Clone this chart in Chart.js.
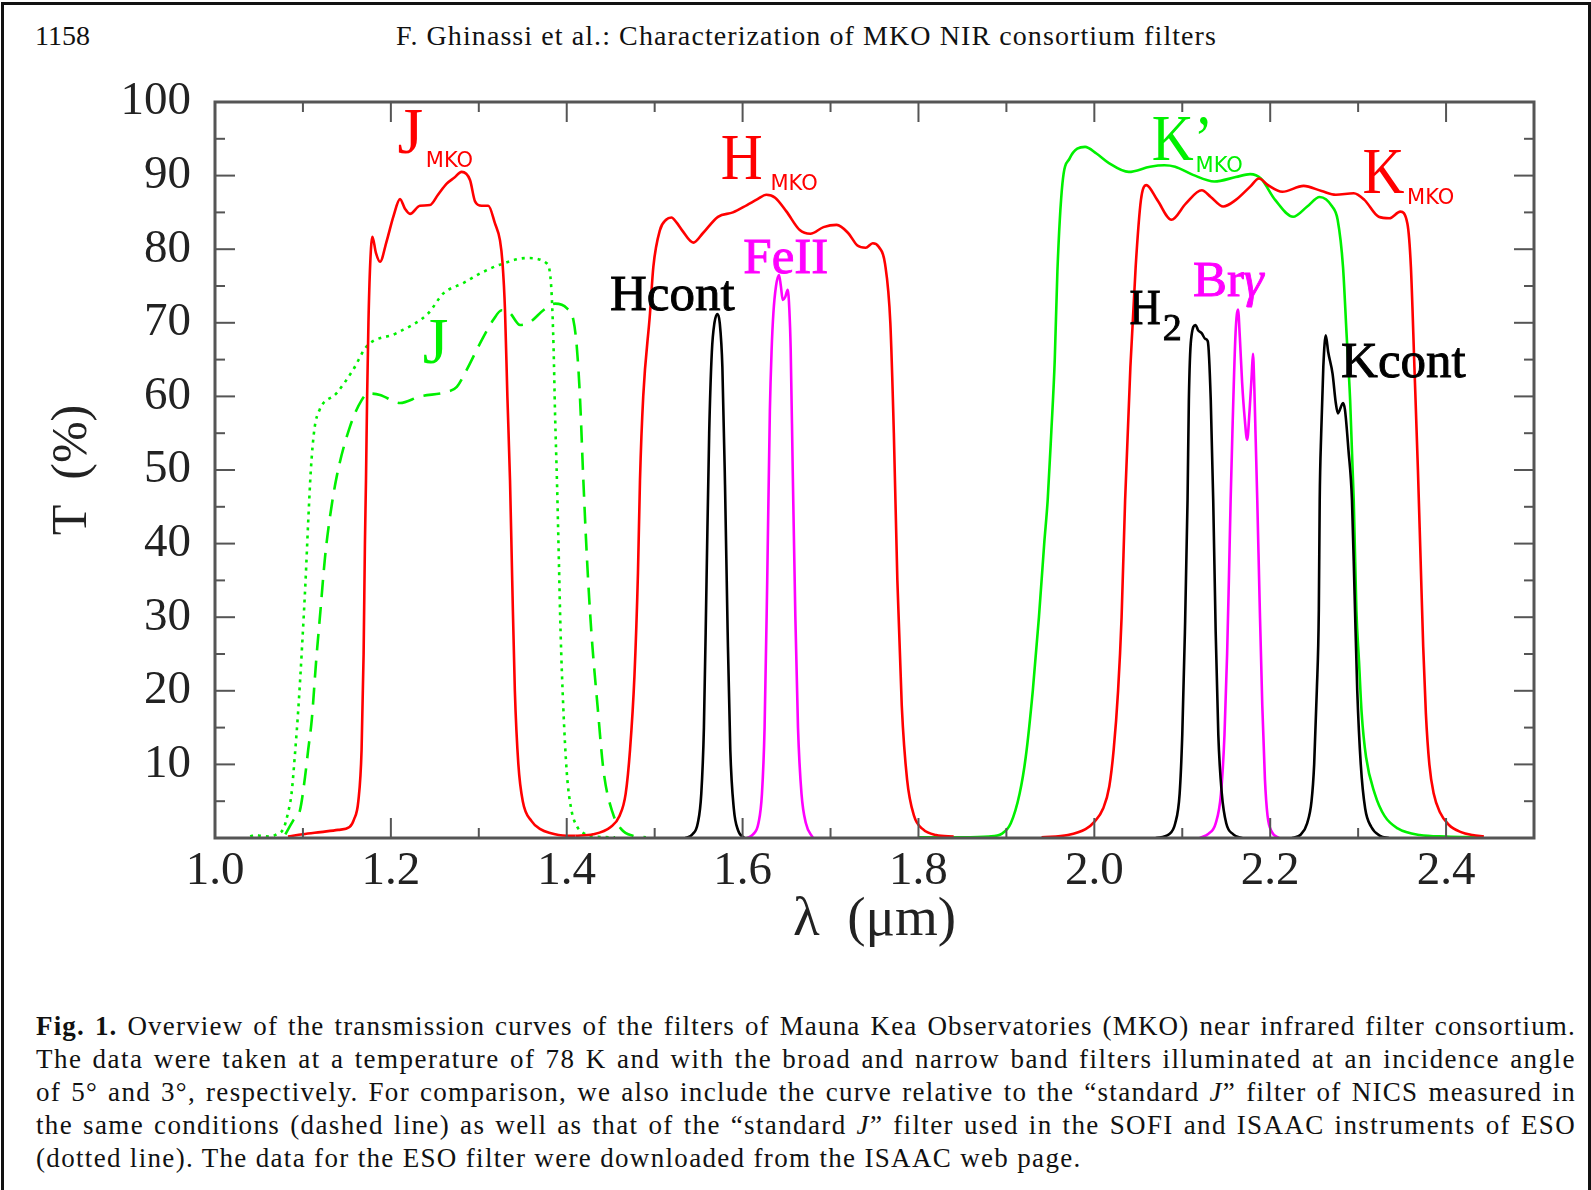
<!DOCTYPE html>
<html>
<head>
<meta charset="utf-8">
<script src="https://cdn.jsdelivr.net/npm/chart.js@4.4.1/dist/chart.umd.min.js"></script>
<style>
  html, body { margin: 0; padding: 0; background: #fff; }
  body { width: 1591px; height: 1190px; position: relative; overflow: hidden;
         font-family: "Liberation Serif", serif; color: #111; }
  #frame { position: absolute; left: 1px; top: 2px; width: 1584px; height: 1300px;
           border: 3px solid #111; border-bottom: none; }
  #chart { position: absolute; left: 0; top: 0; }
  .hdr { position: absolute; top: 22px; font-size: 28px; line-height: 28px; white-space: nowrap; }
  #caption { position: absolute; left: 36px; width: 1540px; top: 1010px;
             font-size: 27px; line-height: 33px; }
  #caption div { white-space: nowrap; text-align: justify; text-align-last: justify; }
  #caption div.last { text-align-last: left; }
</style>
</head>
<body>
<div id="frame"></div>
<div class="hdr" style="left:35px">1158</div>
<div class="hdr" id="runhead" style="left:396px">F. Ghinassi et al.: Characterization of MKO NIR consortium filters</div>
<canvas id="chart" width="1591" height="980"></canvas>
<div id="caption">
  <div><span><b>Fig. 1.</b> Overview of the transmission curves of the filters of Mauna Kea Observatories (MKO) near infrared filter consortium.</span></div>
  <div><span>The data were taken at a temperature of 78 K and with the broad and narrow band filters illuminated at an incidence angle</span></div>
  <div><span>of 5° and 3°, respectively. For comparison, we also include the curve relative to the “standard <i>J</i>” filter of NICS measured in</span></div>
  <div><span>the same conditions (dashed line) as well as that of the “standard <i>J</i>” filter used in the SOFI and ISAAC instruments of ESO</span></div>
  <div class="last"><span>(dotted line). The data for the ESO filter were downloaded from the ISAAC web page.</span></div>
</div>
<script>
/* MKO NIR filter transmission curves */

const RED = "#ff0000", GREEN = "#00f000", MAGENTA = "#ff00ff", BLACK = "#000000";

// axis ticks
const X_MAJOR = [1.0, 1.2, 1.4, 1.6, 1.8, 2.0, 2.2, 2.4];
const X_MINOR = [1.1, 1.3, 1.5, 1.7, 1.9, 2.1, 2.3];
const Y_MAJOR = [10, 20, 30, 40, 50, 60, 70, 80, 90, 100];
const Y_MINOR = [5, 15, 25, 35, 45, 55, 65, 75, 85, 95];

// broad band: J MKO
const J_MKO_X = [1.083, 1.10, 1.12, 1.14, 1.153, 1.158, 1.163, 1.1667, 1.169, 1.1705, 1.1717, 1.173, 1.1745, 1.1765, 1.179,
  1.183, 1.1877, 1.195, 1.203, 1.2104, 1.216, 1.2218, 1.233, 1.2445, 1.2536, 1.2635, 1.272, 1.2805, 1.29, 1.2957, 1.3033,
  1.3108, 1.3184, 1.3241, 1.327, 1.3298, 1.3325, 1.3355, 1.338, 1.341, 1.345, 1.35, 1.36, 1.37, 1.38, 1.40, 1.41];
const J_MKO_Y = [0.2, 0.5, 0.8, 1.1, 1.5, 2.5, 5, 12, 25, 40, 48.6, 60, 70, 78, 81.7,
  79.5, 78.3, 81, 84.5, 86.8, 85.5, 84.8, 85.9, 86, 87.4, 88.9, 89.7, 90.5, 89.4, 86.5, 85.9,
  85.9, 83.5, 81.2, 78.1, 71.7, 60, 48.6, 35, 20, 10, 5, 2.3, 1.2, 0.7, 0.3, 0.3];

// broad band: H MKO
const H_MKO_X = [1.41, 1.43, 1.45, 1.46, 1.467, 1.472, 1.477, 1.481, 1.4833, 1.487, 1.4947, 1.4985, 1.506, 1.513, 1.519,
  1.525, 1.531, 1.544, 1.555, 1.572, 1.589, 1.605, 1.617, 1.627, 1.637, 1.650, 1.665, 1.677, 1.692, 1.707, 1.720,
  1.7306, 1.74, 1.748, 1.755, 1.762, 1.768, 1.772, 1.776, 1.781, 1.787, 1.795, 1.805, 1.82, 1.84];
const H_MKO_Y = [0.3, 0.5, 1.5, 3, 6, 12, 22, 36, 48.6, 60, 71.3, 77.6, 82.6, 84.0, 84.3,
  83.6, 82.6, 80.9, 82.2, 84.4, 85.0, 86.0, 86.8, 87.4, 87.0, 85.1, 82.6, 82.1, 83.0, 83.3, 82.2,
  80.5, 80.2, 80.8, 80.3, 78, 70, 55, 35, 18, 8, 3, 1.2, 0.4, 0.2];

// broad band: K MKO
const K_MKO_X = [1.94, 1.97, 1.99, 2.0, 2.01, 2.017, 2.022, 2.027, 2.031, 2.035, 2.041, 2.047, 2.053, 2.059, 2.0715,
  2.0877, 2.104, 2.1222, 2.1324, 2.1466, 2.1609, 2.1772, 2.1873, 2.1975, 2.2137, 2.238, 2.2584, 2.2746, 2.295, 2.3071,
  2.3234, 2.3356, 2.348, 2.356, 2.360, 2.364, 2.368, 2.371, 2.374, 2.377, 2.381, 2.386, 2.393, 2.403, 2.417,
  2.43, 2.443];
const K_MKO_Y = [0.1, 0.4, 1.2, 2.2, 4, 7, 12, 20, 30, 45.9, 64, 77.6, 86.7, 88.7, 86.7,
  84.0, 86.2, 88.0, 87.1, 85.8, 86.7, 88.5, 89.6, 88.7, 87.8, 88.6, 87.9, 87.4, 87.6, 86.7,
  84.4, 84.2, 85.1, 83.5, 77.6, 64, 50, 38, 26, 17, 10, 6, 3.5, 1.8, 0.8,
  0.4, 0.2];

// broad band: K' MKO
const KP_MKO_X = [1.80, 1.85, 1.88, 1.895, 1.905, 1.915, 1.922, 1.93, 1.937, 1.943, 1.947, 1.951, 1.955, 1.958, 1.9637,
  1.9718, 1.9894, 2.0024, 2.0166, 2.039, 2.0634, 2.0797, 2.0919, 2.1122, 2.1365, 2.1609, 2.1772, 2.1894, 2.2056, 2.226,
  2.2421, 2.2563, 2.2705, 2.2767, 2.2828, 2.2868, 2.2909, 2.295, 2.298, 2.301, 2.304, 2.309, 2.319, 2.33, 2.345, 2.37,
  2.40, 2.44];
const KP_MKO_Y = [0.1, 0.1, 0.2, 0.6, 2, 6, 11, 20, 30, 40, 46, 55, 65, 77, 88.9,
  92.3, 93.9, 93.0, 91.7, 90.5, 91.2, 91.4, 91.2, 90.1, 89.2, 89.8, 90.2, 89.6, 86.7, 84.4,
  85.8, 87.1, 85.8, 84.0, 77.6, 68.6, 59.5, 45.9, 31, 24, 17, 11, 6, 3, 1.3, 0.4,
  0.2, 0.1];

// standard J of NICS (dashed) and of ESO SOFI/ISAAC (dotted)
const J_NICS_X = [1.08, 1.089, 1.0967, 1.1024, 1.106, 1.11, 1.115, 1.12, 1.125, 1.13, 1.1384, 1.1535, 1.1668, 1.1744,
  1.1877, 1.2104, 1.2331, 1.2635, 1.275, 1.2862, 1.3014, 1.3165, 1.326, 1.3355, 1.3469, 1.3582, 1.3734, 1.3867, 1.4,
  1.4075, 1.4114, 1.415, 1.4189, 1.423, 1.428, 1.435, 1.442, 1.452, 1.462, 1.475, 1.49];
const J_NICS_Y = [0.5, 2.4, 3.8, 8.3, 12, 16, 24, 31, 38, 43, 49.1, 55.9, 59.5, 60.4,
  60.2, 59.1, 60.0, 60.6, 61.3, 63.6, 67.2, 70.4, 71.7, 71.3, 69.7, 70.1, 71.7, 72.6, 72.0,
  70.4, 66.8, 60, 48.6, 38, 28, 18, 9, 3.5, 1.2, 0.3, 0.1];

const J_ESO_X = [1.040, 1.045, 1.052, 1.0625, 1.070, 1.078, 1.083, 1.087, 1.091, 1.095, 1.099, 1.103, 1.106, 1.109,
  1.113, 1.119, 1.138, 1.157, 1.1725, 1.2066, 1.2426, 1.2597, 1.2824, 1.3014, 1.3241, 1.3545, 1.377, 1.381, 1.383,
  1.385, 1.3867, 1.389, 1.391, 1.393, 1.396, 1.400, 1.405, 1.412, 1.42, 1.43, 1.455];
const J_ESO_Y = [0.2, 0.4, 0.3, 0.2, 0.5, 1.3, 3.4, 6, 11.5, 18, 26, 35, 43, 50,
  55.5, 58.2, 60.4, 63.6, 66.8, 68.6, 71.3, 74.0, 75.4, 76.7, 77.9, 78.8, 78.1, 76.7, 73.5,
  66.8, 57.7, 48, 38, 28, 18, 9, 4, 1.5, 0.6, 0.2, 0.1];

// narrow band filters
const HCONT_X = [1.535, 1.543, 1.549, 1.553, 1.556, 1.559, 1.562, 1.565, 1.568, 1.5715, 1.574, 1.577, 1.580, 1.583,
  1.586, 1.59, 1.595, 1.602];
const HCONT_Y = [0, 0.5, 2, 6, 15, 35, 55, 66, 70, 71.2, 70, 64, 48, 28, 12, 4, 1, 0];

const FEII_X = [1.605, 1.612, 1.618, 1.622, 1.625, 1.628, 1.631, 1.633, 1.635, 1.638, 1.6414, 1.6435, 1.6457, 1.6485,
  1.6513, 1.6532, 1.6547, 1.657, 1.66, 1.663, 1.667, 1.672, 1.68];
const FEII_Y = [0, 0.5, 2, 6, 15, 35, 58, 66.3, 71.3, 75, 76.5, 75, 73.1, 73.5, 74.5, 71.7, 66.3, 50, 30, 15, 6, 2, 0];

const H2_X = [2.07, 2.085, 2.092, 2.097, 2.100, 2.103, 2.106, 2.1075, 2.11, 2.1152, 2.118, 2.122, 2.1263, 2.129, 2.1324,
  2.1352, 2.138, 2.141, 2.145, 2.15, 2.158, 2.168];
const H2_Y = [0, 0.5, 2, 6, 14, 28, 45.9, 59.5, 67.7, 69.7, 69, 68.6, 67.8, 67.5, 59.5, 45.9, 28, 14, 6, 2, 0.5, 0];

const BRG_X = [2.12, 2.13, 2.138, 2.144, 2.148, 2.151, 2.153, 2.155, 2.157, 2.1606, 2.1634, 2.1655, 2.168, 2.171,
  2.1738, 2.1765, 2.179, 2.1804, 2.182, 2.1833, 2.1853, 2.188, 2.191, 2.194, 2.197, 2.202, 2.21];
const BRG_Y = [0, 0.6, 2, 6, 14, 25, 35, 45.9, 55, 68.6, 71.8, 68, 62, 57, 54.1, 58, 63, 65.8, 61, 55, 45.9, 32, 18,
  8, 3, 0.8, 0];

const KCONT_X = [2.225, 2.235, 2.242, 2.247, 2.25, 2.253, 2.2553, 2.2563, 2.258, 2.2604, 2.2632, 2.266, 2.2709, 2.2746,
  2.277, 2.2828, 2.285, 2.289, 2.293, 2.296, 2.299, 2.303, 2.308, 2.315, 2.325, 2.335];
const KCONT_Y = [0, 0.5, 2, 5, 10, 20, 31, 45.9, 55, 64, 68.3, 66, 63.1, 59.1, 57.7, 59.1, 58.2, 52.7, 45.9, 33, 20,
  10, 4, 1.5, 0.3, 0];

// curve labels: anchor = left edge / baseline, in data units
const BIG = '66px "Liberation Serif"';
const SUB = '21px "DejaVu Sans"';
const NB = '51px "Liberation Serif"';
const LABELS = [
  { text: "J", x: 1.2075, y: 93.1, color: RED, font: BIG },
  { text: "MKO", x: 1.2397, y: 91.2, color: RED, font: SUB },
  { text: "H", x: 1.5751, y: 89.5, color: RED, font: BIG, sx: 0.88 },
  { text: "MKO", x: 1.6317, y: 88.0, color: RED, font: SUB },
  { text: "K\u2019", x: 2.0654, y: 92.1, color: GREEN, font: BIG, sx: 0.88 },
  { text: "MKO", x: 2.1151, y: 90.5, color: GREEN, font: SUB },
  { text: "K", x: 2.305, y: 87.6, color: RED, font: BIG, sx: 0.88 },
  { text: "MKO", x: 2.3557, y: 86.1, color: RED, font: SUB },
  { text: "J", x: 1.2362, y: 64.5, color: GREEN, font: BIG },
  { text: "Hcont", x: 1.4492, y: 71.7, color: BLACK, font: NB, bold: true },
  { text: "FeII", x: 1.6008, y: 76.7, color: MAGENTA, font: NB, bold: true },
  { text: "H", x: 2.04, y: 69.8, color: BLACK, font: NB, bold: true, sx: 0.85 },
  { text: "2", x: 2.0777, y: 67.6, color: BLACK, font: '38px "Liberation Serif"', bold: true },
  { text: "Br", x: 2.1121, y: 73.6, color: MAGENTA, font: NB, bold: true },
  { text: "\u03b3", x: 2.1695, y: 73.6, color: MAGENTA, font: 'italic ' + NB, bold: true },
  { text: "Kcont", x: 2.2806, y: 62.7, color: BLACK, font: NB, bold: true },
];

function pts(xs, ys) { return xs.map((x, i) => ({ x, y: ys[i] })); }

function curve(label, xs, ys, color, dash) {
  return {
    label, data: pts(xs, ys), borderColor: color, borderWidth: 2.6,
    borderDash: dash || [], pointRadius: 0, fill: false,
    cubicInterpolationMode: "monotone",
  };
}

const datasets = [
  curve("Hcont", HCONT_X, HCONT_Y, BLACK),
  curve("H2", H2_X, H2_Y, BLACK),
  curve("Kcont", KCONT_X, KCONT_Y, BLACK),
  curve("FeII", FEII_X, FEII_Y, MAGENTA),
  curve("Br gamma", BRG_X, BRG_Y, MAGENTA),
  curve("J MKO", J_MKO_X, J_MKO_Y, RED),
  curve("H MKO", H_MKO_X, H_MKO_Y, RED),
  curve("K MKO", K_MKO_X, K_MKO_Y, RED),
  curve("K' MKO", KP_MKO_X, KP_MKO_Y, GREEN),
  curve("J NICS", J_NICS_X, J_NICS_Y, GREEN, [17, 10]),
  curve("J ESO", J_ESO_X, J_ESO_Y, GREEN, [3, 5]),
];

/* ---------- plugins ---------- */
const frame = {
  id: "frame",
  afterDraw(chart) {
    const { ctx, chartArea: a, scales: { x, y } } = chart;
    const seg = (x0, y0, x1, y1) => { ctx.beginPath(); ctx.moveTo(x0, y0); ctx.lineTo(x1, y1); ctx.stroke(); };
    ctx.save();
    ctx.strokeStyle = "#555";
    ctx.lineWidth = 2;
    const xt = (vals, len) => vals.forEach((v) => {
      const p = x.getPixelForValue(v);
      seg(p, a.bottom, p, a.bottom - len);
      seg(p, a.top, p, a.top + len);
    });
    const yt = (vals, len) => vals.forEach((v) => {
      const p = y.getPixelForValue(v);
      seg(a.left, p, a.left + len, p);
      seg(a.right, p, a.right - len, p);
    });
    xt(X_MAJOR, 20); xt(X_MINOR, 10);
    yt(Y_MAJOR, 20); yt(Y_MINOR, 10);
    ctx.lineWidth = 3;
    ctx.strokeRect(a.left, a.top, a.width, a.height);
    ctx.restore();
  },
};

const curveLabels = {
  id: "curveLabels",
  afterDatasetsDraw(chart) {
    const { ctx, scales: { x, y } } = chart;
    ctx.save();
    ctx.textAlign = "left";
    ctx.textBaseline = "alphabetic";
    for (const l of LABELS) {
      ctx.save();
      ctx.translate(x.getPixelForValue(l.x), y.getPixelForValue(l.y));
      ctx.scale(l.sx || 1, 1);
      ctx.font = l.font;
      ctx.fillStyle = l.color;
      ctx.fillText(l.text, 0, 0);
      if (l.bold) { ctx.strokeStyle = l.color; ctx.lineWidth = 0.9; ctx.strokeText(l.text, 0, 0); }
      ctx.restore();
    }
    ctx.restore();
  },
};

Chart.defaults.font.family = '"Liberation Serif", serif';
Chart.defaults.color = "#222";

new Chart(document.getElementById("chart"), {
  type: "line",
  data: { datasets },
  options: {
    responsive: false, animation: false, devicePixelRatio: 1,
    layout: { padding: { left: 0, top: 102, right: 57, bottom: 0 } },
    plugins: { legend: { display: false }, tooltip: { enabled: false } },
    scales: {
      x: {
        type: "linear", min: 1.0, max: 2.5,
        grid: { display: false, drawTicks: false }, border: { display: false },
        afterBuildTicks: (s) => { s.ticks = X_MAJOR.map((v) => ({ value: v })); },
        afterFit: (s) => { s.height = 142; },
        ticks: { padding: 5, font: { size: 47 }, color: "#222", callback: (v) => Number(v).toFixed(1), maxRotation: 0, autoSkip: false },
        title: { display: true, text: "\u03bb  (\u03bcm)", font: { size: 55 }, color: "#222", padding: { top: 0, bottom: 26 } },
      },
      y: {
        type: "linear", min: 0, max: 100,
        grid: { display: false, drawTicks: false }, border: { display: false },
        afterBuildTicks: (s) => { s.ticks = Y_MAJOR.map((v) => ({ value: v })); },
        afterFit: (s) => { s.width = 215; },
        ticks: { padding: 24, font: { size: 47 }, color: "#222", autoSkip: false },
        title: { display: true, text: "T  (%)", font: { size: 50 }, color: "#222", padding: { top: 43, bottom: 0 } },
      },
    },
  },
  plugins: [frame, curveLabels],
});

/* ---------- text fitting: spread header and caption like the typeset page ---------- */
function spreadTo(el, target, share) {
  const span = el.firstElementChild;
  el.style.textAlignLast = "left";           // measure before justification
  el.style.textAlign = "left";
  const w = span.getBoundingClientRect().width;
  el.style.textAlignLast = "";
  el.style.textAlign = "";
  const n = span.textContent.length;
  const ls = w < target ? (target - w) * share / n : 0;
  span.style.letterSpacing = ls.toFixed(2) + "px";
  return ls;
}
const head = document.getElementById("runhead");
head.innerHTML = "<span>" + head.innerHTML + "</span>";
spreadTo(head, 821, 1);

const capLines = [...document.querySelectorAll("#caption div")];
const spacing = capLines.slice(0, -1).map((d) => spreadTo(d, 1540, 0.8));
const avg = spacing.reduce((a, b) => a + b, 0) / spacing.length;
capLines[capLines.length - 1].firstElementChild.style.letterSpacing = avg.toFixed(2) + "px";
</script>
</body>
</html>
